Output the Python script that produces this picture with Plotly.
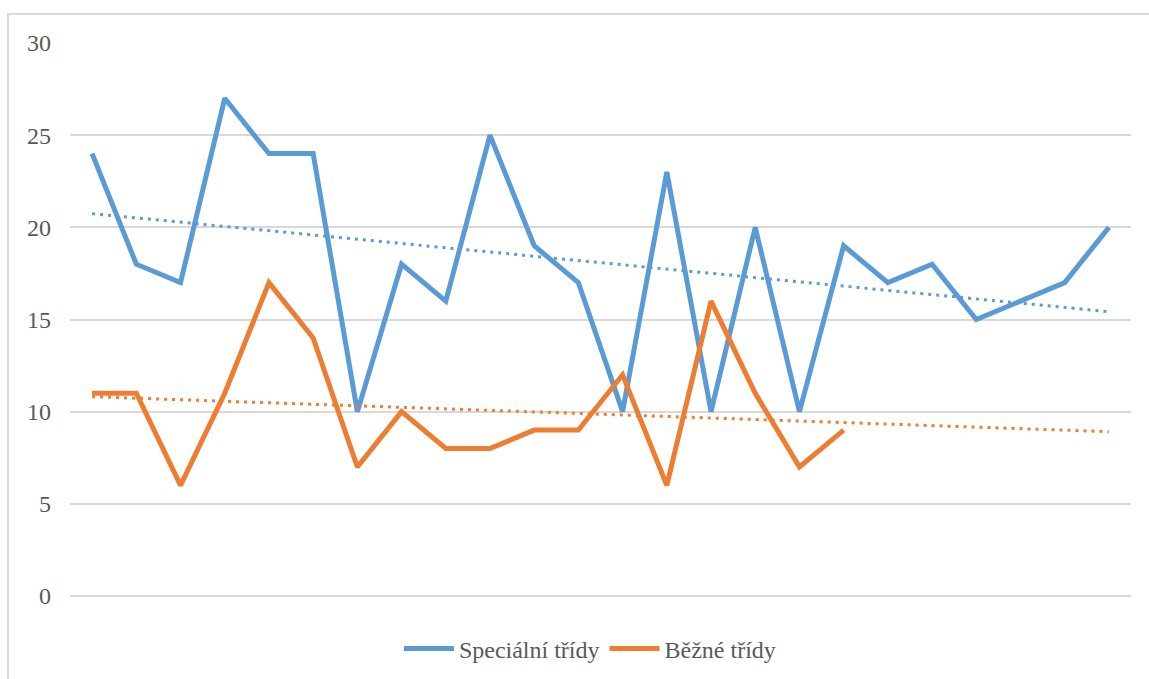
import numpy as np
import plotly.graph_objects as go

# Class index (1..24) and values per series
categories = list(range(1, 25))
specialni = [24, 18, 17, 27, 24, 24, 10, 18, 16, 25, 19, 17,
             10, 23, 10, 20, 10, 19, 17, 18, 15, 16, 17, 20]
bezne = [11, 11, 6, 11, 17, 14, 7, 10, 8, 8, 9, 9,
         12, 6, 16, 11, 7, 9]
y_ticks = [0, 5, 10, 15, 20, 25, 30]

BLUE = "#5B9BD5"
ORANGE = "#ED7D31"
TEXT = "#595959"
GRID = "#D9D9D9"
FONT = "Liberation Serif"


def linear_trend(values, xs_out):
    xs = np.arange(1, len(values) + 1)
    slope, intercept = np.polyfit(xs, values, 1)
    return [slope * x + intercept for x in xs_out]


fig = go.Figure()

fig.add_trace(go.Scatter(
    x=categories, y=specialni, mode="lines", name="Speciální třídy",
    line=dict(color=BLUE, width=5),
))
fig.add_trace(go.Scatter(
    x=categories[:len(bezne)], y=bezne, mode="lines", name="Běžné třídy",
    line=dict(color=ORANGE, width=5),
))

# Linear trendlines over the full category range
fig.add_trace(go.Scatter(
    x=categories, y=linear_trend(specialni, categories), mode="lines",
    showlegend=False, hoverinfo="skip",
    line=dict(color=BLUE, width=3, dash="3px,5px"),
))
fig.add_trace(go.Scatter(
    x=categories, y=linear_trend(bezne, categories), mode="lines",
    showlegend=False, hoverinfo="skip",
    line=dict(color=ORANGE, width=3, dash="3px,5px"),
))

# Light chart frame
left_px, right_px, top_px, bottom_px = 70, 1131, 43, 596
pw, ph = right_px - left_px, bottom_px - top_px
fig.add_shape(
    type="rect", xref="paper", yref="paper",
    x0=(8 - left_px) / pw, x1=(1160 - left_px) / pw,
    y0=(bottom_px - 690) / ph, y1=(bottom_px - 14) / ph,
    line=dict(color=GRID, width=2), fillcolor="rgba(0,0,0,0)", layer="below",
)

fig.update_layout(
    width=1149, height=679,
    margin=dict(l=left_px, r=1149 - right_px, t=top_px, b=679 - bottom_px,
                autoexpand=False),
    paper_bgcolor="white", plot_bgcolor="white",
    font=dict(family=FONT, size=24, color=TEXT),
    showlegend=True,
    legend=dict(
        orientation="h", x=0.49, xanchor="center", y=-0.055, yanchor="top",
        font=dict(family=FONT, size=24, color=TEXT), itemwidth=50,
    ),
    xaxis=dict(
        range=[0.5, 24.5], showticklabels=False, showgrid=False,
        zeroline=False, showline=False, ticks="",
    ),
    yaxis=dict(
        range=[0, 30], tickvals=y_ticks, showgrid=True, gridcolor=GRID,
        gridwidth=2, zeroline=True, zerolinecolor=GRID, zerolinewidth=2,
        showline=False, ticks="",
        ticklabelstandoff=18,
        tickfont=dict(family=FONT, size=24, color=TEXT),
    ),
)

fig.write_html("out.html")
